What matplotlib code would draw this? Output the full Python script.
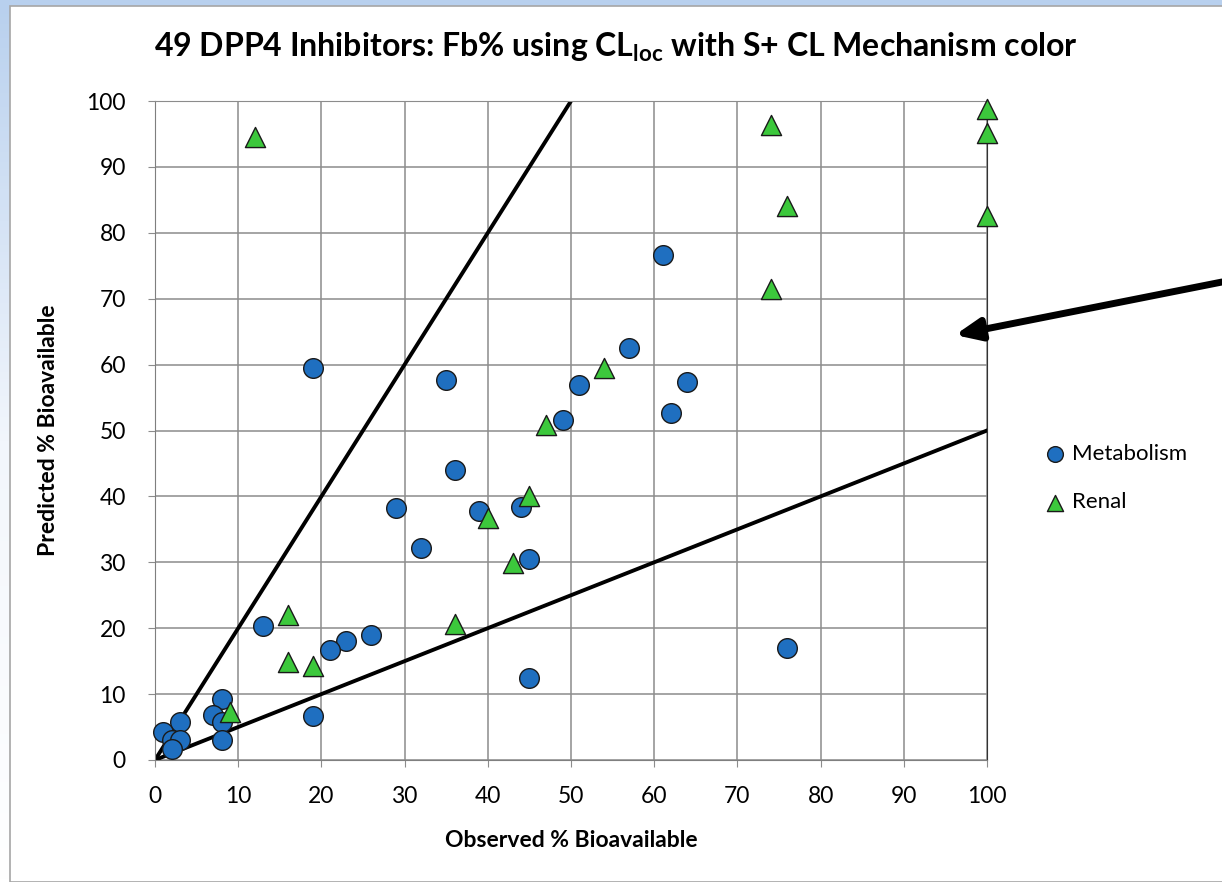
import numpy as np
import matplotlib
matplotlib.use('Agg')
import matplotlib.pyplot as plt
from matplotlib.patches import Rectangle

plt.rcParams['font.family'] = ['Lato', 'DejaVu Sans']

# observed vs predicted % bioavailable, metabolism cleared compounds
met_obs = [61, 19, 35, 51, 57, 64, 62, 49, 36, 29, 39, 44, 32, 45, 13, 26, 23, 21,
           76, 45, 19, 8, 7, 8, 8, 3, 1, 2, 3, 2]
met_pred = [76.6, 59.5, 57.7, 56.9, 62.5, 57.4, 52.7, 51.6, 44, 38.2, 37.8, 38.4, 32.2,
            30.5, 20.3, 19, 18, 16.7, 17, 12.4, 6.7, 9.3, 6.8, 5.8, 3.0, 5.7, 4.3, 3.1,
            3.0, 1.6]

# renal cleared compounds
ren_obs = [12, 74, 100, 100, 76, 100, 74, 54, 47, 45, 40, 43, 36, 16, 16, 19, 9]
ren_pred = [94.5, 96.4, 98.8, 95.1, 84, 82.5, 71.5, 59.5, 50.8, 40.1, 36.7, 29.9,
            20.6, 22, 14.9, 14.3, 7.3]

ticks = list(range(0, 101, 10))

fig = plt.figure(figsize=(12.22, 8.82), dpi=100)

# slide background: light blue gradient strip at left / top, white panel
bg = fig.add_axes([0, 0, 1, 1], zorder=-10)
grad = np.linspace(0, 1, 256).reshape(-1, 1)
bg.imshow(grad, aspect='auto', extent=[0, 1, 0, 1], origin='lower',
          cmap=matplotlib.colors.LinearSegmentedColormap.from_list(
              'bgc', ['#ffffff', '#f2f6fc', '#b8d0ee']))
bg.add_patch(Rectangle((10 / 1222, 0), 1.0, 1 - 6 / 882, facecolor='white',
                       edgecolor='#a6a6a6', lw=1.2, transform=bg.transAxes))
bg.set_xlim(0, 1)
bg.set_ylim(0, 1)
bg.axis('off')

ax = fig.add_axes([155 / 1222, 122 / 882, 832 / 1222, 659 / 882])
ax.set_xlim(0, 100)
ax.set_ylim(0, 100)
ax.set_xticks(ticks)
ax.set_yticks(ticks)
ax.grid(True, color='#8c8c8c', lw=1.1)
ax.set_axisbelow(True)
ax.spines['top'].set_color('#8c8c8c')
for s in ['left', 'bottom']:
    ax.spines[s].set_color('#7f7f7f')
ax.spines['right'].set_color('#333333')
ax.tick_params(direction='out', length=5, color='#8c8c8c', labelsize=16.5)
ax.tick_params(axis='x', pad=14)
ax.tick_params(axis='y', pad=16)

# 2-fold lines
ax.plot([0, 50], [0, 100], color='black', lw=2.8, zorder=2)
ax.plot([0, 100], [0, 50], color='black', lw=2.8, zorder=2)

ax.scatter(met_obs, met_pred, s=200, marker='o', color='#1f6fc0', edgecolor='#1a1a1a',
           lw=1, zorder=3, clip_on=False, label='Metabolism')
ax.scatter(ren_obs, ren_pred, s=210, marker='^', color='#3cc83c', edgecolor='#1a1a1a',
           lw=1, zorder=3, clip_on=False, label='Renal')

ax.set_title('49 DPP4 Inhibitors: Fb% using CL$_{\\mathregular{loc}}$ with S+ CL Mechanism color',
             fontsize=23, fontweight='bold', pad=32, x=0.554)
ax.set_xlabel('Observed % Bioavailable', fontsize=16.5, fontweight='bold', labelpad=16)
ax.set_ylabel('Predicted % Bioavailable', fontsize=16.5, fontweight='bold', labelpad=20)

leg = ax.legend(loc='center left', bbox_to_anchor=(1.068, 0.428), frameon=False,
                fontsize=16, handlelength=1.0, handletextpad=0.3, markerscale=0.8,
                labelspacing=1.3, borderpad=0, borderaxespad=0)

ax.annotate('', xy=(955 / 1222, 1 - 335 / 882), xycoords='figure fraction',
            xytext=(1.0, 1 - 282 / 882), textcoords='figure fraction',
            arrowprops=dict(arrowstyle='-|>,head_length=1.5,head_width=0.65',
                            color='black', lw=5, shrinkA=0, shrinkB=0))

fig.savefig('out.png', dpi=100)
